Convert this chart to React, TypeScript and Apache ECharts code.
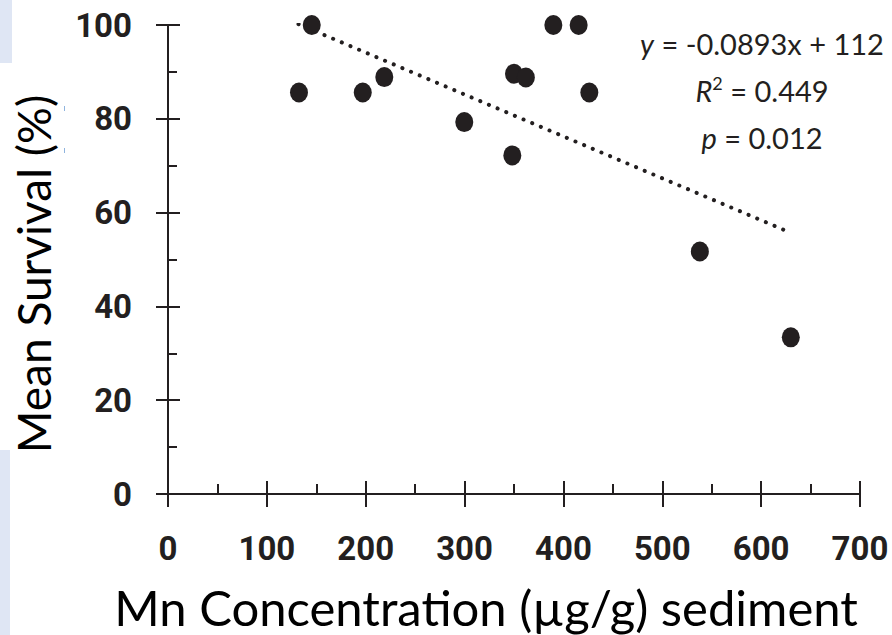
import React, { useEffect, useRef } from "react";
import * as echarts from "echarts";

const xValues = [132.5, 145.4, 197, 218.8, 299.7, 348.3, 350, 362, 389.8, 415.4, 426.2, 538, 630];
const yValues = [85.6, 100, 85.6, 88.9, 79.3, 72.2, 89.6, 88.8, 100, 100, 85.6, 51.7, 33.4];
const trendX = [132, 630];
const trendY = [100.2, 55.7];
const xTitle = "Mn Concentration (µg/g) sediment";
const yTitle = "Mean Survival (%)";
const eqLines = ["{i|y} = -0.0893x + 112", "{i|R}{s|2} = 0.449", "{i|p} = 0.012"];

const INK = "#231f20";
const TITLE_FONT = "Lato, 'Open Sans', sans-serif";
const TICK_FONT = "Roboto, 'Liberation Sans', sans-serif";

export default function App() {
  const ref = useRef<HTMLDivElement>(null);
  useEffect(() => {
    if (!ref.current) return;
    const chart = echarts.init(ref.current, null, { renderer: "svg" });
    const axisLine = { show: true, lineStyle: { color: INK, width: 2 } };
    const tickStyle = { color: INK, width: 2 };
    const baseX = { type: "value", min: 0, max: 700, interval: 100, gridIndex: 0, position: "bottom", splitLine: { show: false } };
    const baseY = { type: "value", min: 0, max: 100, interval: 20, gridIndex: 0, position: "left", splitLine: { show: false } };
    const eqRich = {
      i: { fontStyle: "italic", fontFamily: TITLE_FONT, fontSize: 29, color: INK },
      s: { fontFamily: TITLE_FONT, fontSize: 18, color: INK, verticalAlign: "top", padding: [0, 0, 14, 0] },
    };
    chart.setOption({
      animation: false,
      backgroundColor: "#ffffff",
      grid: { left: 168, right: 32, top: 25, bottom: 141, containLabel: false },
      xAxis: [
        {
          ...baseX,
          axisLine,
          axisTick: { show: true, inside: false, length: 13, lineStyle: tickStyle },
          axisLabel: { show: true, margin: 38, color: INK, fontWeight: "bold", fontSize: 33, fontFamily: TICK_FONT },
        },
        {
          ...baseX,
          axisLine: { show: false },
          axisTick: { show: true, inside: true, length: 13, lineStyle: tickStyle },
          minorTick: { show: true, splitNumber: 2, length: 10, lineStyle: tickStyle },
          axisLabel: { show: false },
        },
      ],
      yAxis: [
        {
          ...baseY,
          axisLine,
          axisTick: { show: true, inside: false, length: 12, lineStyle: tickStyle },
          axisLabel: { show: true, margin: 36, color: INK, fontWeight: "bold", fontSize: 33, fontFamily: TICK_FONT },
        },
        {
          ...baseY,
          axisLine: { show: false },
          axisTick: { show: true, inside: true, length: 12, lineStyle: tickStyle },
          minorTick: { show: true, splitNumber: 2, length: 9, lineStyle: tickStyle },
          axisLabel: { show: false },
        },
      ],
      series: [
        {
          type: "line",
          xAxisIndex: 0,
          yAxisIndex: 0,
          data: trendX.map((x, i) => [x, trendY[i]]),
          showSymbol: false,
          symbol: "none",
          lineStyle: { color: INK, width: 4, type: [0.1, 9.3], cap: "round" },
          z: 2,
        },
        {
          type: "scatter",
          xAxisIndex: 0,
          yAxisIndex: 0,
          data: xValues.map((x, i) => [x, yValues[i]]),
          symbol: "path://M0,1a1,1 0 1,0 2,0a1,1 0 1,0 -2,0z",
          symbolSize: [18, 20],
          itemStyle: { color: INK, opacity: 1 },
          z: 3,
        },
      ],
      graphic: [
        { type: "rect", shape: { x: 0, y: 0, width: 12, height: 63 }, style: { fill: "#dfe6f4" }, silent: true },
        { type: "rect", shape: { x: 0, y: 450, width: 10, height: 185 }, style: { fill: "#dfe6f4" }, silent: true },
        { type: "rect", shape: { x: 64, y: 106, width: 1, height: 5 }, style: { fill: "#8fb4de" }, silent: true },
        { type: "rect", shape: { x: 64, y: 148, width: 1, height: 5 }, style: { fill: "#8fb4de" }, silent: true },
        {
          type: "text",
          x: 33,
          y: 274,
          rotation: Math.PI / 2,
          style: { text: yTitle, fontFamily: TITLE_FONT, fontSize: 46, fill: "#000", textAlign: "center", textVerticalAlign: "middle" },
        },
        {
          type: "text",
          x: 486,
          y: 607,
          style: { text: xTitle, fontFamily: TITLE_FONT, fontSize: 49, fill: "#000", textAlign: "center", textVerticalAlign: "middle" },
        },
        ...eqLines.map((t, i) => ({
          type: "text",
          x: 762,
          y: 43 + i * 47,
          style: {
            text: t,
            rich: eqRich,
            fontFamily: TITLE_FONT,
            fontSize: 29,
            fill: INK,
            textAlign: "center",
            textVerticalAlign: "middle",
          },
        })),
      ],
    });
    return () => chart.dispose();
  }, []);
  return <div ref={ref} style={{ position: "fixed", left: 0, top: 0, width: 892, height: 635 }} />;
}
